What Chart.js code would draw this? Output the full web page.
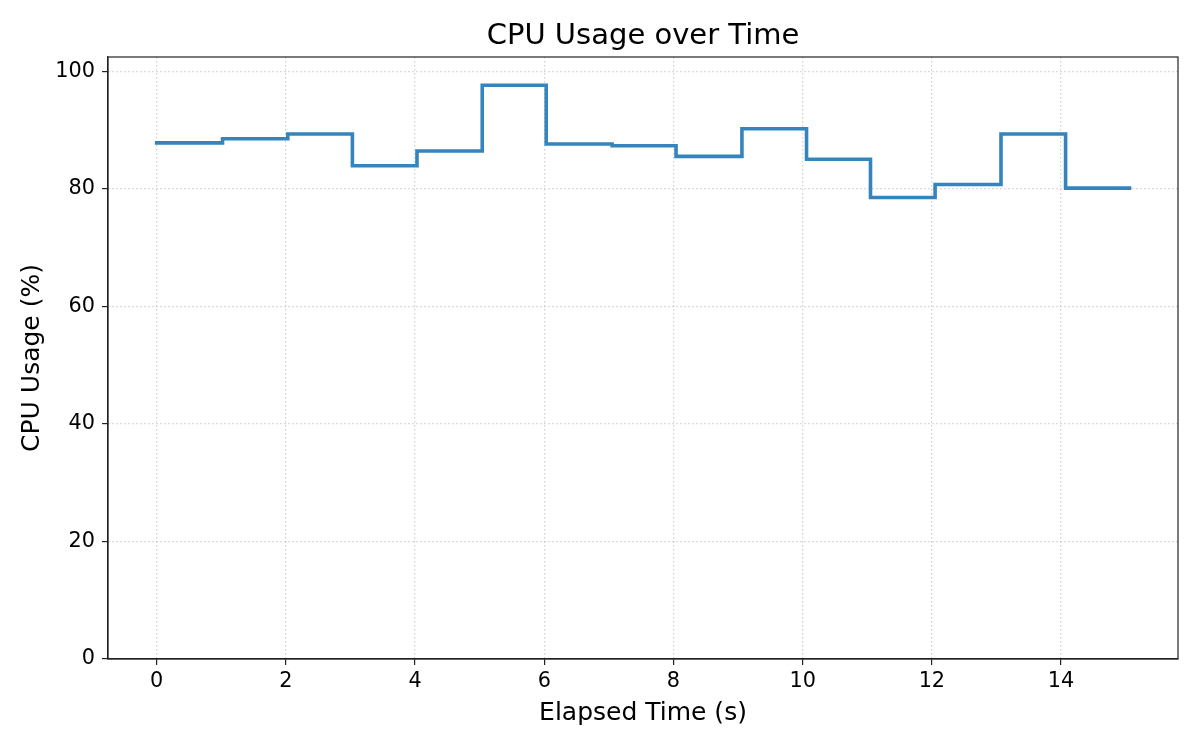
<!DOCTYPE html>
<html>
<head>
<meta charset="utf-8">
<script src="https://cdn.jsdelivr.net/npm/chart.js@4.4.1/dist/chart.umd.min.js"></script>
<style>
  html, body { margin: 0; padding: 0; background: #fff; }
  #cpu { display: block; }
</style>
</head>
<body>
<canvas id="cpu" width="1200" height="750"></canvas>
<script>
// elapsed time of each sample (s) and cpu usage (%)
var elapsed = [0, 1.02, 2.03, 3.03, 4.03, 5.04, 6.03, 7.05, 8.04, 9.06, 10.06, 11.05, 12.05, 13.07, 14.07, 15.06]
var cpuUsage = [87.8, 88.5, 89.3, 83.9, 86.4, 97.6, 87.6, 87.3, 85.5, 90.2, 85.0, 78.5, 80.7, 89.3, 80.1, 80.1]
var xTicks = [0, 2, 4, 6, 8, 10, 12, 14]
var yTicks = [0, 20, 40, 60, 80, 100]
var chartTitle = "CPU Usage over Time"

var FONT = "'DejaVu Sans', sans-serif"
var points = elapsed.map(function (t, i) {
    return {x: t, y: cpuUsage[i]}
})

// matplotlib-ish frame: top/right spines and the title over the axes
var framePlugin = {
    id: 'frame',
    afterDraw: function (chart) {
        var a = chart.chartArea
        var c = chart.ctx
        c.save()
        c.strokeStyle = '#222'
        c.lineWidth = 1.2
        c.strokeRect(a.left, a.top, a.right - a.left, a.bottom - a.top)
        c.fillStyle = '#000'
        c.font = "29px " + FONT
        c.textAlign = 'center'
        c.textBaseline = 'alphabetic'
        c.fillText(chartTitle, (a.left + a.right) / 2, 43.5)
        c.restore()
    }
}

function setTicks(values) {
    return function (scale) {
        scale.ticks = values.map(function (v) { return {value: v} })
    }
}

var ctx = document.getElementById('cpu').getContext('2d')
var myChart = new Chart(ctx, {
    type: 'line',
    data: {
        datasets: [{
            label: 'CPU Usage',
            data: points,
            // horizontal first, then vertical (value held until next sample)
            stepped: 'before',
            borderColor: '#3585bc',
            borderWidth: 3.6,
            borderJoinStyle: 'miter',
            borderCapStyle: 'square',
            pointRadius: 0,
            fill: false
        }]
    },
    options: {
        responsive: false,
        animation: false,
        devicePixelRatio: 1,
        layout: {padding: {top: 57, right: 22, bottom: 0, left: 0}},
        plugins: {
            legend: {display: false},
            tooltip: {enabled: false},
            title: {display: false}
        },
        scales: {
            x: {
                type: 'linear',
                min: -0.753,
                max: 15.81,
                afterBuildTicks: setTicks(xTicks),
                afterFit: function (scale) { scale.height = 91 },
                ticks: {
                    color: '#000',
                    padding: 4,
                    font: {family: FONT, size: 20.8},
                    callback: function (v) { return String(v) }
                },
                grid: {
                    color: 'rgba(176,176,176,0.6)',
                    lineWidth: 1.2,
                    tickLength: 6,
                    tickColor: '#222',
                    tickWidth: 1.2
                },
                border: {display: true, color: '#222', width: 1.2, dash: [1.5, 2.5]},
                title: {
                    display: true,
                    text: 'Elapsed Time (s)',
                    color: '#000',
                    font: {family: FONT, size: 25},
                    padding: {top: 0, bottom: 22}
                }
            },
            y: {
                type: 'linear',
                min: 0,
                max: 102.4,
                afterBuildTicks: setTicks(yTicks),
                afterFit: function (scale) { scale.width = 108 },
                ticks: {
                    color: '#000',
                    padding: 7,
                    font: {family: FONT, size: 20.8},
                    callback: function (v) { return String(v) }
                },
                grid: {
                    color: 'rgba(176,176,176,0.6)',
                    lineWidth: 1.2,
                    tickLength: 6,
                    tickColor: '#222',
                    tickWidth: 1.2
                },
                border: {display: true, color: '#222', width: 1.2, dash: [1.5, 2.5]},
                title: {
                    display: true,
                    text: 'CPU Usage (%)',
                    color: '#000',
                    font: {family: FONT, size: 25},
                    padding: {top: 17, bottom: 0}
                }
            }
        }
    },
    plugins: [framePlugin]
})
</script>
</body>
</html>
